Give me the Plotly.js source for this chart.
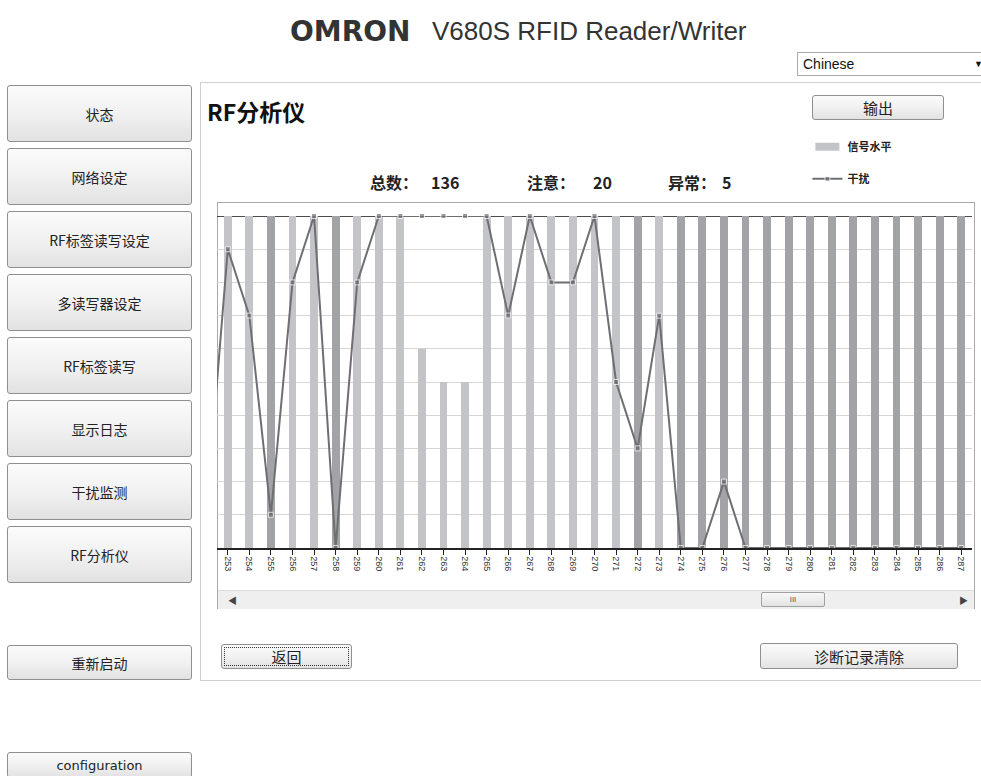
<!DOCTYPE html>
<html>
<head>
<meta charset="utf-8">
<script src="https://cdn.plot.ly/plotly-3.0.1.min.js"></script>
<style>
  html, body { margin:0; padding:0; background:#fff; width:981px; height:776px; overflow:hidden; }
  body { position:relative; font-family:"Liberation Sans","Noto Sans CJK SC",sans-serif; color:#222; }
  .abs { position:absolute; }
  .btn { position:absolute; box-sizing:border-box; border:1px solid #8f8f8f; border-radius:3px;
         background:linear-gradient(#fbfbfb,#f1f1f1 50%,#e2e2e2); text-align:center;
         font-family:"Noto Sans CJK SC","Liberation Sans",sans-serif; font-size:14px; color:#222;
         display:flex; align-items:center; justify-content:center; }
  .cjk { font-family:"Noto Sans CJK SC",sans-serif; }
  #plot { position:absolute; left:0; top:0; width:981px; height:776px; z-index:2; }
  .stat { position:absolute; top:170px; font-size:16px; font-weight:bold; color:#222; font-family:"Noto Sans CJK SC",sans-serif; white-space:nowrap; }
  .stat span { position:absolute; top:0; }
</style>
</head>
<body>
<!-- header -->
<div class="abs" style="left:290px; top:15px; font-family:'DejaVu Sans',sans-serif; font-weight:bold; font-size:28px; letter-spacing:0px; color:#333;">OMRON</div>
<div class="abs" style="left:432px; top:16px; font-family:'Liberation Sans',sans-serif; font-size:26px; color:#333;">V680S RFID Reader/Writer</div>
<div class="abs" style="left:797px; top:52px; width:190px; height:24px; box-sizing:border-box; border:1px solid #a9a9a9; font-size:14px; padding:3px 0 0 5px; color:#111;">Chinese<span style="position:absolute; left:176px; top:6px; font-size:9px;">&#9660;</span></div>

<!-- left nav -->
<div class="btn" style="left:7px; top:85px; width:185px; height:57px;">状态</div>
<div class="btn" style="left:7px; top:148px; width:185px; height:57px;">网络设定</div>
<div class="btn" style="left:7px; top:211px; width:185px; height:57px;">RF标签读写设定</div>
<div class="btn" style="left:7px; top:274px; width:185px; height:57px;">多读写器设定</div>
<div class="btn" style="left:7px; top:337px; width:185px; height:57px;">RF标签读写</div>
<div class="btn" style="left:7px; top:400px; width:185px; height:57px;">显示日志</div>
<div class="btn" style="left:7px; top:463px; width:185px; height:57px;">干扰监测</div>
<div class="btn" style="left:7px; top:526px; width:185px; height:57px;">RF分析仪</div>
<div class="btn" style="left:7px; top:645px; width:185px; height:35px;">重新启动</div>
<div class="btn" style="left:7px; top:752px; width:185px; height:26px; font-family:'DejaVu Sans',sans-serif; font-size:13px;">configuration</div>

<!-- main panel -->
<div class="abs" style="left:200px; top:82px; width:800px; height:599px; box-sizing:border-box; border:1px solid #cfcfcf;"></div>
<div class="abs cjk" style="left:207px; top:94px; font-size:23px; font-weight:bold; color:#111;">RF分析仪</div>
<div class="btn" style="left:812px; top:95px; width:132px; height:25px; font-size:15px;">输出</div>
<div class="stat" style="left:370px;">总数：<span style="left:61px;">136</span></div>
<div class="stat" style="left:527px;">注意：<span style="left:66px;">20</span></div>
<div class="stat" style="left:668px;">异常：<span style="left:54px;">5</span></div>

<!-- chart frame + scrollbar -->
<div class="abs" style="left:217px; top:202px; width:758px; height:407px; box-sizing:border-box; border:1px solid #a8a8a8; background:#fff; z-index:1;"></div>
<div class="abs" style="left:218px; top:590px; width:756px; height:18px; background:#efefef; border-top:1px solid #dcdcdc; z-index:3;">
  <span style="position:absolute; left:10px; top:3px; font-size:9px; color:#444;">&#9664;</span>
  <span style="position:absolute; left:741px; top:3px; font-size:9px; color:#444;">&#9654;</span>
  <div style="position:absolute; left:543px; top:1px; width:64px; height:15px; box-sizing:border-box; border:1px solid #a0a0a0; border-radius:2px; background:linear-gradient(#f8f8f8,#e3e3e3); font-size:8px; text-align:center; line-height:13px; color:#555;">III</div>
</div>

<!-- bottom buttons -->
<div class="btn" style="left:221px; top:644px; width:131px; height:25px; font-size:15px;"><div style="position:absolute; left:2px; top:2px; right:2px; bottom:2px; border:1px dotted #333;"></div>返回</div>
<div class="btn" style="left:760px; top:643px; width:198px; height:26px; font-size:15px;">诊断记录清除</div>

<div id="plot"></div>

<script>
// ---- data ----
const binNumbers = [253,254,255,256,257,258,259,260,261,262,263,264,265,266,267,268,269,270,
                    271,272,273,274,275,276,277,278,279,280,281,282,283,284,285,286,287];
const binLabels  = ["253","254","255","256","257","258","259","260","261","262","263","264","265","266","267","268","269","270",
                    "271","272","273","274","275","276","277","278","279","280","281","282","283","284","285","286","287"];
const signalLevel = [10,10,10,10,10,10,10,10,10,6,5,5,10,10,10,10,10,10,
                     10,10,10,10,10,10,10,10,10,10,10,10,10,10,10,10,10];
const interference = [9,7,1,8,10,0,8,10,10,10,10,10,10,7,10,8,8,10,
                      5,3,7,0,0,2,0,0,0,0,0,0,0,0,0,0,0];
const barStatus = [0,0,1,0,0,1,0,0,0,0,0,0,0,0,0,0,0,0,
                   0,1,0,1,1,1,1,1,1,1,1,1,1,1,1,1,1];
// bin just left of the visible window (only its line segment shows)
const prevBin = 252;
const prevInterference = 1;

const lightBar = '#c3c4c8', darkBar = '#a2a3a7', lineCol = '#6e6f73';
const xMin = 252.5, xMax = 287.5;

const lineX = [prevBin].concat(binNumbers);
const lineY = [prevInterference].concat(interference);

const traces = [
  {
    type:'bar', name:'信号水平', x:binNumbers, y:signalLevel, width:0.37,
    marker:{color: barStatus.map(s => s ? darkBar : lightBar), line:{width:0}},
    legendgroup:'a', hoverinfo:'x+y'
  },
  {
    type:'scatter', mode:'lines+markers', name:'干扰', x:lineX, y:lineY,
    line:{color:lineCol, width:2},
    marker:{symbol:'square', color:lineCol, size: lineX.map(v => (v < xMin || v > xMax) ? 0 : 5)},
    cliponaxis:false, legendgroup:'b'
  }
];

const layout = {
  width:981, height:776,
  margin:{l:217, r:9, t:216, b:228, pad:0},
  paper_bgcolor:'rgba(0,0,0,0)', plot_bgcolor:'rgba(0,0,0,0)',
  showlegend:true,
  legend:{x:0.782, xanchor:'left', y:1.252, yanchor:'top', traceorder:'grouped', tracegroupgap:13,
          font:{family:'Noto Sans CJK SC', size:11, color:'#222', weight:'bold'},
          bgcolor:'rgba(0,0,0,0)', itemwidth:30},
  bargap:0,
  xaxis:{type:'linear', range:[xMin, xMax], tickmode:'array', tickvals:binNumbers, ticktext:binLabels,
         tickangle:90, ticks:'outside', ticklen:5, tickcolor:'#222', tickwidth:1,
         showline:true, linecolor:'#222', linewidth:1.5, showgrid:false, zeroline:false,
         tickfont:{family:'Liberation Sans', size:9, color:'#333'}, fixedrange:true},
  yaxis:{range:[0,10], dtick:1, tick0:0, showgrid:true, gridcolor:'#d6d6d6', gridwidth:1,
         showticklabels:false, ticks:'', zeroline:false, showline:false, fixedrange:true},
  shapes:[{type:'line', xref:'paper', x0:0, x1:1, yref:'y', y0:10, y1:10, layer:'between',
           line:{color:'#111', width:1.5}}]
};

Plotly.newPlot('plot', traces, layout, {displayModeBar:false, staticPlot:true}).then(function(gd){
  // widen the bar legend swatch to the flat rectangle used in the reference
  const sw = gd.querySelector('.legend .legendpoints path.legendundefined, .legend .traces .legendpoints path');
  const pts = gd.querySelectorAll('.legend .traces');
  if (pts.length) {
    const p = pts[0].querySelector('.legendpoints path');
    if (p) p.setAttribute('d', 'M12,4H-12V-4H12Z');
  }
});
</script>
</body>
</html>
